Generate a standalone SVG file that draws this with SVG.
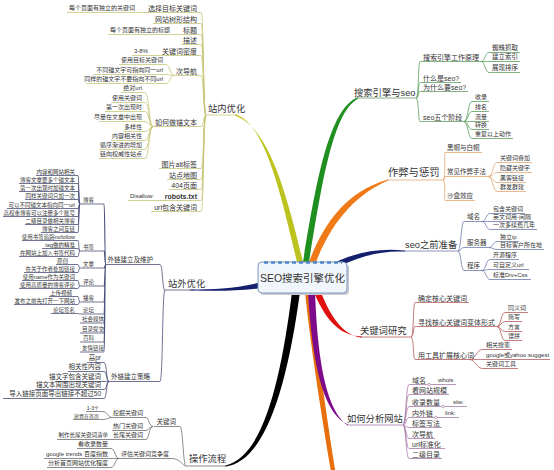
<svg xmlns="http://www.w3.org/2000/svg" width="554" height="470" viewBox="0 0 554 470">
<style>
text{font-family:"Liberation Sans","Noto Sans CJK SC",sans-serif;fill:#333}
.m{font-size:9.3px}
.m2{font-size:10.3px}
.a{font-size:7px}
.b{font-size:6.5px}
.c{font-size:6px}
.d{font-size:5.5px}
.f{font-size:5px}
.e{text-anchor:end}
.u{fill:none;stroke-width:0.8}
.Y{stroke:#c8c67a}
.S{stroke:#4b5179}
.K{stroke:#6e6e6e}
.G{stroke:#5f9f5f}
.O{stroke:#e2a875}
.N{stroke:#6c7aa8}
.R{stroke:#b45c5c}
.P{stroke:#a87ca8}
.j{fill:#fff;stroke-width:0.7}
</style>
<rect width="554" height="470" fill="#fff"/>
<g id="connectors">
<!-- main branches -->
<path d="M297 262C282 200 266 123 235 114.3L235 115.7C270 127 288 200 303 262Z" fill="#bcc21e"/>
<path d="M303 262C315 190 328 108 358 97.3L358 98.7C332 112 321 190 309 262Z" fill="#1f8f1f"/>
<path d="M309 262C322 228 343 192 388 179.4L388 180.6C348 198 328 232 316 262Z" fill="#f07a18"/>
<path d="M338 261C360 251.5 380 248 405 250.4L405 251.6C380 250.5 360 256.5 338 267Z" fill="#14206e"/>
<path d="M262 282C235 288.5 215 289.3 190 289.5L190 290.5C215 290.7 235 291.5 262 288Z" fill="#14206e"/>
<path d="M313 290C324 317 338 336 362 336.4L362 337.6C342 336 329 313 320 290Z" fill="#e01010"/>
<path d="M305 292C310 340 319 400 331 472L335.5 472C324 400 316 340 312 292Z" fill="#e8700c"/>
<path d="M308 292C311 340 318 412 348 424.4L348 425.6C322 408 317 340 315 292Z" fill="#7d0a8a"/>
<path d="M292 292C281 380 263 458 225 465.4L225 466.6C267 462 288 380 300 292Z" fill="#000"/>
<!-- 站内优化 -->
<g class="u Y">
<path d="M206 115C203 115 204 12.5 201 12.5M206 115C203 115 204 23.5 201 23.5M206 115C203 115 204 34.5 201 34.5M206 115C203 115 204 44.5 201 44.5M206 115C203 115 204 55.5 201 55.5M206 115C203 115 204 75.5 201 75.5M206 115C203 115 204 126.5 201 126.5M206 115C203 115 204 168.5 201 168.5M206 115C203 115 204 179.5 201 179.5M206 115C203 115 204 189.5 201 189.5M206 115C203 115 204 200.5 201 200.5M206 115C203 115 204 211.5 201 211.5"/>
<path d="M146 12.5H138M181 34.5H173M160 55.5H151M166 200.5H157"/>
<path d="M174 75.5C170 75.5 170 64.5 166 64.5M174 75.5C170 75.5 170 74.5 166 74.5M174 75.5C170 75.5 170 83.5 166 83.5"/>
<path d="M153 126.5C149 126.5 149 92.5 145 92.5M153 126.5C149 126.5 149 102.5 145 102.5M153 126.5C149 126.5 149 111.5 145 111.5M153 126.5C149 126.5 149 121.5 145 121.5M153 126.5C149 126.5 149 131.5 145 131.5M153 126.5C149 126.5 149 140.5 145 140.5M153 126.5C149 126.5 149 149.5 145 149.5M153 126.5C149 126.5 149 158.5 145 158.5"/>
</g>
<!-- 站外优化 -->
<g class="u S">
<path d="M165 290C162 290 163 264.5 160 264.5M165 290C162 290 163 381.5 160 381.5"/>
<path d="M106 264.5C104.5 264.5 105 204 104 204M106 264.5C104.5 264.5 105 251 104 251M106 264.5C104.5 264.5 105 268 104 268M106 264.5C104.5 264.5 105 286 104 286M106 264.5C104.5 264.5 105 302 104 302M106 264.5C104.5 264.5 105 314 104 314M106 264.5C104.5 264.5 105 323 104 323M106 264.5C104.5 264.5 105 333 104 333M106 264.5C104.5 264.5 105 342 104 342M106 264.5C104.5 264.5 105 352 104 352" stroke-width="1.1"/>
<path d="M80 204C78.5 204 79 175.5 78 175.5M80 204C78.5 204 79 183.5 78 183.5M80 204C78.5 204 79 191.5 78 191.5M80 204C78.5 204 79 199.5 78 199.5M80 204C78.5 204 79 208.5 78 208.5M80 204C78.5 204 79 216.5 78 216.5M80 204C78.5 204 79 224.5 78 224.5M80 204C78.5 204 79 232.5 78 232.5"/>
<path d="M80 251C78.5 251 79 240.5 78 240.5M80 251C78.5 251 79 248.5 78 248.5M80 251C78.5 251 79 256.5 78 256.5"/>
<path d="M80 268C78.5 268 79 264.5 78 264.5M80 268C78.5 268 79 272.5 78 272.5"/>
<path d="M80 286C78.5 286 79 280.5 78 280.5M80 286C78.5 286 79 288.5 78 288.5"/>
<path d="M80 302C78.5 302 79 296.5 78 296.5M80 302C78.5 302 79 304.5 78 304.5"/>
<path d="M80 314C78.5 314 79 313.5 78 313.5"/>
<path d="M109 381.5C106 381.5 107 362.5 104 362.5M109 381.5C106 381.5 107 371.5 104 371.5M109 381.5C106 381.5 107 381.5 104 381.5M109 381.5C106 381.5 107 389.5 104 389.5M109 381.5C106 381.5 107 398.5 104 398.5"/>
</g>
<!-- 操作流程 -->
<g class="u K">
<path d="M186 466C183 466 183 426.5 180 426.5M186 466C183 466 180 458.5 172 458.5"/>
<path d="M153 426.5C149 426.5 149 417.5 146 417.5M153 426.5C149 426.5 149 430.5 146 430.5M153 426.5C149 426.5 149 439.5 146 439.5"/>
<path d="M112 417.5C108 417.5 108 411.5 102 411.5M112 417.5C108 417.5 108 419.5 102 419.5M112 439.5H110"/>
<path d="M119 458.5C115 458.5 115 448.5 111 448.5M119 458.5C115 458.5 115 458.5 111 458.5M119 458.5C115 458.5 115 467.5 111 467.5"/>
</g>
<!-- 搜索引擎与seo -->
<g class="u G">
<path d="M416 98C419 98 418 61.5 420 61.5M416 98C419 98 418 82.5 420 82.5M416 98C419 98 418 91.5 420 91.5M416 98C419 98 418 121.5 420 121.5"/>
<path d="M481 61.5C485 61.5 485 52.5 489 52.5M481 61.5C485 61.5 485 61.5 489 61.5M481 61.5C485 61.5 485 72.5 489 72.5"/>
<path d="M464 121.5C468 121.5 468 101.5 472 101.5M464 121.5C468 121.5 468 111.5 472 111.5M464 121.5C468 121.5 468 121.5 472 121.5M464 121.5C468 121.5 468 129.5 472 129.5M464 121.5C468 121.5 468 138.5 472 138.5"/>
</g>
<!-- 作弊与惩罚 -->
<g class="u O">
<path d="M443 180C446 180 444 152.5 445 152.5M443 180C446 180 444 176.5 445 176.5M443 180C446 180 444 200.5 445 200.5"/>
<path d="M488 176.5C493 176.5 493 162.5 497 162.5M488 176.5C493 176.5 493 172.5 497 172.5M488 176.5C493 176.5 493 182.5 497 182.5M488 176.5C493 176.5 493 191.5 497 191.5"/>
</g>
<!-- seo之前准备 -->
<g class="u N">
<path d="M458 251C461 251 461 221.5 464 221.5M458 251C461 251 461 247.5 464 247.5M458 251C461 251 461 270.5 464 270.5"/>
<path d="M482 221.5C486 221.5 486 213.5 490 213.5M482 221.5C486 221.5 486 221.5 490 221.5M482 221.5C486 221.5 486 229.5 490 229.5"/>
<path d="M489 247.5C493 247.5 493 241.5 497 241.5M489 247.5C493 247.5 493 249.5 497 249.5"/>
<path d="M482 270.5C486 270.5 486 259.5 490 259.5M482 270.5C486 270.5 486 269.5 490 269.5M482 270.5C486 270.5 486 279.5 490 279.5"/>
</g>
<!-- 关键词研究 -->
<g class="u R">
<path d="M411 337C414 337 413 302.5 415 302.5M411 337C414 337 413 326.5 415 326.5M411 337C414 337 413 359.5 415 359.5"/>
<path d="M497 326.5C501 326.5 501 312.5 505 312.5M497 326.5C501 326.5 501 321.5 505 321.5M497 326.5C501 326.5 501 331.5 505 331.5M497 326.5C501 326.5 501 340.5 505 340.5"/>
<path d="M469 359.5C476 359.5 476 349.5 483 349.5M469 359.5C476 359.5 476 359.5 483 359.5M469 359.5C476 359.5 476 368.5 483 368.5"/>
</g>
<!-- 如何分析网站 -->
<g class="u P">
<path d="M403 425C406 425 406 384.5 409 384.5M403 425C406 425 406 394.5 409 394.5M403 425C406 425 406 406.5 409 406.5M403 425C406 425 406 417.5 409 417.5M403 425C406 425 406 427.5 409 427.5M403 425C406 425 406 438.5 409 438.5M403 425C406 425 406 448.5 409 448.5M403 425C406 425 406 458.5 409 458.5"/>
</g>
</g>

<g id="center">
<rect x="260" y="264" width="89" height="31" rx="4" fill="#c8ccd4"/>
<rect x="258" y="262" width="89" height="31" rx="4" fill="#f1f6fc" stroke="#7f98bd" stroke-width="1"/>
<path d="M264 262.5H342" stroke="#4f86c8" stroke-width="2.6" stroke-dasharray="4 3"/>
<text x="302.5" y="282" font-size="10.5" text-anchor="middle">SEO搜索引擎优化</text>
</g>

<!-- 站内优化 -->
<g id="n-zhannei"><text class="m" x="208" y="111.5">站内优化</text><path class="u Y" d="M205 115H237" stroke-width="1"/></g>
<g id="n-zn1" class="a e"><text x="197" y="10.5">选择目标关键词</text><path class="u Y" d="M146 12.5H201"/></g>
<g id="n-zn2" class="a e"><text x="197" y="21.5">网站树形结构</text><path class="u Y" d="M153 23.5H201"/></g>
<g id="n-zn3" class="a e"><text x="197" y="32.5">标题</text><path class="u Y" d="M181 34.5H201"/></g>
<g id="n-zn4" class="a e"><text x="197" y="42.5">描述</text><path class="u Y" d="M181 44.5H201"/></g>
<g id="n-zn5" class="a e"><text x="197" y="53.5">关键词密度</text><path class="u Y" d="M160 55.5H201"/></g>
<g id="n-zn6" class="a e"><text x="197" y="73.5">次导航</text><path class="u Y" d="M174 75.5H201"/></g>
<g id="n-zn7" class="a e"><text x="197" y="124.5">如何做锚文本</text><path class="u Y" d="M153 126.5H201"/></g>
<g id="n-zn8" class="a e"><text x="197" y="166.5">图片alt标签</text><path class="u Y" d="M159 168.5H201"/></g>
<g id="n-zn9" class="a e"><text x="197" y="177.5">站点地图</text><path class="u Y" d="M167 179.5H201"/></g>
<g id="n-zn10" class="a e"><text x="197" y="187.5">404页面</text><path class="u Y" d="M169 189.5H201"/></g>
<g id="n-zn11" class="a e"><text x="197" y="198.5" font-weight="bold">robots.txt</text><path class="u Y" d="M164 200.5H201"/></g>
<g id="n-zn12" class="a e"><text x="197" y="209.5">url包含关键词</text><path class="u Y" d="M151 211.5H201"/></g>
<g id="n-zn1a" class="c e"><text x="135" y="10.3">每个页面有独立的关键词</text><path class="u Y" d="M67 12.5H138"/></g>
<g id="n-zn3a" class="c e"><text x="170" y="32.3">每个页面有独立的标题</text><path class="u Y" d="M108 34.5H173"/></g>
<g id="n-zn5a" class="c e"><text x="148" y="53.3">3-8%</text><path class="u Y" d="M132 55.5H151"/></g>
<g id="n-zn6a" class="c e"><text x="163" y="62.3">使用目标关键词</text><path class="u Y" d="M119 64.5H166"/></g>
<g id="n-zn6b" class="c e"><text x="163" y="72.3">不同锚文字可指向同一url</text><path class="u Y" d="M93 74.5H166"/></g>
<g id="n-zn6c" class="c e"><text x="163" y="81.3">同样的锚文字不要指向不同url</text><path class="u Y" d="M86 83.5H166"/></g>
<g id="n-zn7a" class="c e"><text x="142" y="90.3">绝对url</text><path class="u Y" d="M121 92.5H145"/></g>
<g id="n-zn7b" class="c e"><text x="142" y="100.3">使用关键词</text><path class="u Y" d="M111 102.5H145"/></g>
<g id="n-zn7c" class="c e"><text x="142" y="109.3">第一次出现时</text><path class="u Y" d="M105 111.5H145"/></g>
<g id="n-zn7d" class="c e"><text x="142" y="119.3">尽量在文章中出现</text><path class="u Y" d="M99 121.5H145"/></g>
<g id="n-zn7e" class="c e"><text x="142" y="129.3">多样性</text><path class="u Y" d="M123 131.5H145"/></g>
<g id="n-zn7f" class="c e"><text x="142" y="138.3">内容相关性</text><path class="u Y" d="M111 140.5H145"/></g>
<g id="n-zn7g" class="c e"><text x="142" y="147.3">循序渐进的增加</text><path class="u Y" d="M99 149.5H145"/></g>
<g id="n-zn7h" class="c e"><text x="142" y="156.3">链向权威性站点</text><path class="u Y" d="M99 158.5H145"/></g>
<g id="n-zn11a" class="c e"><text x="154" y="198.3">Disallow:</text><path class="u Y" d="M128 200.5H157"/></g>

<!-- 站外优化 -->
<g id="n-zhanwai"><text class="m" x="168" y="286.5">站外优化</text><path class="u S" d="M165 290H195" stroke-width="1"/></g>
<g id="n-zw1" class="b e"><text x="153" y="262.3">外链建立及维护</text><path class="u S" d="M106 264.5H160"/></g>
<g id="n-zw2" class="b e"><text x="150" y="379.3">外链建立策略</text><path class="u S" d="M109 381.5H160"/></g>
<g id="n-zw1a" class="d"><text x="83" y="202">博客</text><path class="u S" d="M80 204H104"/></g>
<g id="n-zw1b" class="d"><text x="83" y="249">书签</text><path class="u S" d="M80 251H104"/></g>
<g id="n-zw1c" class="d"><text x="83" y="266">文章</text><path class="u S" d="M80 268H104"/></g>
<g id="n-zw1d" class="d"><text x="83" y="284">评论</text><path class="u S" d="M80 286H104"/></g>
<g id="n-zw1e" class="d"><text x="83" y="300">播客</text><path class="u S" d="M80 302H104"/></g>
<g id="n-zw1f" class="d"><text x="83" y="312">论坛</text><path class="u S" d="M80 314H104"/></g>
<g id="n-zw1g" class="d"><text x="82" y="321">社会媒体</text><path class="u S" d="M80 323H104"/></g>
<g id="n-zw1h" class="d"><text x="82" y="331">目录提交</text><path class="u S" d="M80 333H104"/></g>
<g id="n-zw1i" class="d"><text x="83" y="340">百科</text><path class="u S" d="M80 342H104"/></g>
<g id="n-zw1j" class="d"><text x="82" y="350">友情链接</text><path class="u S" d="M80 352H104"/></g>
<g id="n-bk1" class="d e"><text x="75" y="174">内容和网站相关</text><path class="u S" d="M36 175.5H78"/></g>
<g id="n-bk2" class="d e"><text x="75" y="182">博客文章要多个锚文本</text><path class="u S" d="M19 183.5H78"/></g>
<g id="n-bk3" class="d e"><text x="75" y="190">第一次出现时加锚文本</text><path class="u S" d="M19 191.5H78"/></g>
<g id="n-bk4" class="d e"><text x="75" y="198">同样关键词只加一次</text><path class="u S" d="M25 199.5H78"/></g>
<g id="n-bk5" class="d e"><text x="75" y="207">可以不同锚文本指向同一url</text><path class="u S" d="M7 208.5H78"/></g>
<g id="n-bk6" class="d e"><text x="75" y="215">高权重博客可以注册多个账号</text><path class="u S" d="M3 216.5H78"/></g>
<g id="n-bk7" class="d e"><text x="75" y="223">二级目录做相关博客</text><path class="u S" d="M25 224.5H78"/></g>
<g id="n-bk8" class="d e"><text x="75" y="231">博客之间互链</text><path class="u S" d="M41 232.5H78"/></g>
<g id="n-sq1" class="d e"><text x="75" y="239">使用书签追踪nofollow</text><path class="u S" d="M22 240.5H78"/></g>
<g id="n-sq2" class="d e"><text x="75" y="247">tag做的精准</text><path class="u S" d="M42 248.5H78"/></g>
<g id="n-sq3" class="d e"><text x="75" y="255">在网站上加入书签代码</text><path class="u S" d="M19 256.5H78"/></g>
<g id="n-wz1" class="d e"><text x="68" y="263">原创</text><path class="u S" d="M56 264.5H78"/></g>
<g id="n-wz2" class="d e"><text x="75" y="271">在关于作者处加链接</text><path class="u S" d="M24 272.5H78"/></g>
<g id="n-pl1" class="d e"><text x="75" y="279">使用name作为关键词</text><path class="u S" d="M22 280.5H78"/></g>
<g id="n-pl2" class="d e"><text x="75" y="287">使用高质量的博客评论</text><path class="u S" d="M19 288.5H78"/></g>
<g id="n-bo1" class="d e"><text x="72" y="295">上传视频</text><path class="u S" d="M49 296.5H78"/></g>
<g id="n-bo2" class="d e"><text x="75" y="303">发布之前先打开一下网站</text><path class="u S" d="M14 304.5H78"/></g>
<g id="n-lt1" class="d e"><text x="75" y="312">论坛签名</text><path class="u S" d="M51 313.5H78"/></g>
<g id="n-cl1" class="b e"><text x="101" y="360.3">高pr</text><path class="u S" d="M87 362.5H104"/></g>
<g id="n-cl2" class="b e"><text x="101" y="369.3">相关性内容</text><path class="u S" d="M68 371.5H104"/></g>
<g id="n-cl3" class="b e"><text x="101" y="379.3">锚文字包含关键词</text><path class="u S" d="M55 381.5H104"/></g>
<g id="n-cl4" class="b e"><text x="101" y="387.3">锚文本周围出现关键词</text><path class="u S" d="M35 389.5H104"/></g>
<g id="n-cl5" class="b e"><text x="101" y="396.3">导入链接页面导出链接不超过50</text><path class="u S" d="M3 398.5H104"/></g>

<!-- 操作流程 -->
<g id="n-caozuo"><text class="m" x="189" y="461.5">操作流程</text><path class="u K" d="M186 466H228" stroke-width="1"/></g>
<g id="n-cz1" class="b e"><text x="176" y="424.3">关键词</text><path class="u K" d="M154 426.5H180"/></g>
<g id="n-cz2" class="c e"><text x="169" y="456.2">评估关键词竞争度</text><path class="u K" d="M119 458.5H172"/></g>
<g id="n-cz1a" class="c e"><text x="143" y="415.2">挖掘关键词</text><path class="u K" d="M112 417.5H146"/></g>
<g id="n-cz1b" class="c e"><text x="143" y="428.2">热门关键词</text><path class="u K" d="M112 430.5H146"/></g>
<g id="n-cz1c" class="c e"><text x="143" y="437.2">长尾关键词</text><path class="u K" d="M112 439.5H146"/></g>
<g id="n-cz1a1" class="f e"><text x="99" y="409.8">1-3个</text><path class="u K" d="M86 411.5H102"/></g>
<g id="n-cz1a2" class="f e"><text x="99" y="417.8">放置在首页</text><path class="u K" d="M73 419.5H102"/></g>
<g id="n-cz1c1" class="d e"><text x="108" y="437.2">制作长尾关键词清单</text><path class="u K" d="M57 439.5H110"/></g>
<g id="n-cz2a" class="c e"><text x="108" y="446.2">看收录数量</text><path class="u K" d="M77 448.5H111"/></g>
<g id="n-cz2b" class="c e"><text x="108" y="456.2">google trends 百度指数</text><path class="u K" d="M44 458.5H111"/></g>
<g id="n-cz2c" class="c e"><text x="108" y="465.2">分析首页网站优化程度</text><path class="u K" d="M47 467.5H111"/></g>

<!-- 搜索引擎与seo -->
<g id="n-sousuo"><text class="m" x="354" y="95.5">搜索引擎与seo</text><path class="u G" d="M355 98H416" stroke-width="1"/></g>
<g id="n-ss1" class="a"><text x="423" y="59.5">搜索引擎工作原理</text><path class="u G" d="M420 61.5H481"/></g>
<g id="n-ss2" class="a"><text x="423" y="80.5">什么是seo?</text><path class="u G" d="M420 82.5H461"/></g>
<g id="n-ss3" class="a"><text x="423" y="89.5">为什么要seo?</text><path class="u G" d="M420 91.5H468"/></g>
<g id="n-ss4" class="a"><text x="423" y="119.5">seo五个阶段</text><path class="u G" d="M420 121.5H464"/></g>
<g id="n-ss1a" class="b"><text x="492" y="50.3">蜘蛛抓取</text><path class="u G" d="M489 52.5H520"/></g>
<g id="n-ss1b" class="b"><text x="492" y="59.3">建立索引</text><path class="u G" d="M489 61.5H520"/></g>
<g id="n-ss1c" class="b"><text x="492" y="70.3">展现排序</text><path class="u G" d="M489 72.5H520"/></g>
<g id="n-ss4a" class="c"><text x="475" y="99.2">收录</text><path class="u G" d="M472 101.5H489"/></g>
<g id="n-ss4b" class="c"><text x="475" y="109.2">排名</text><path class="u G" d="M472 111.5H489"/></g>
<g id="n-ss4c" class="c"><text x="475" y="119.2">流量</text><path class="u G" d="M472 121.5H489"/></g>
<g id="n-ss4d" class="c"><text x="475" y="127.2">转换</text><path class="u G" d="M472 129.5H489"/></g>
<g id="n-ss4e" class="c"><text x="475" y="136.2">重复以上动作</text><path class="u G" d="M472 138.5H513"/></g>

<!-- 作弊与惩罚 -->
<g id="n-zuobi"><text class="m2" x="388" y="175.5">作弊与惩罚</text><path class="u O" d="M386 180H443" stroke-width="1"/></g>
<g id="n-zb1" class="b"><text x="447" y="150.3">黑帽与白帽</text><path class="u O" d="M445 152.5H482"/></g>
<g id="n-zb2" class="b"><text x="447" y="174.3">常见作弊手法</text><path class="u O" d="M445 176.5H488"/></g>
<g id="n-zb3" class="b"><text x="447" y="198.3">沙盒效应</text><path class="u O" d="M445 200.5H475"/></g>
<g id="n-zb2a" class="c"><text x="500" y="160.2">关键词叠加</text><path class="u O" d="M497 162.5H532"/></g>
<g id="n-zb2b" class="c"><text x="500" y="170.2">隐藏关键字</text><path class="u O" d="M497 172.5H532"/></g>
<g id="n-zb2c" class="c"><text x="500" y="180.2">黑客链接</text><path class="u O" d="M497 182.5H526"/></g>
<g id="n-zb2d" class="c"><text x="500" y="189.2">群发群建</text><path class="u O" d="M497 191.5H526"/></g>

<!-- seo之前准备 -->
<g id="n-zhunbei"><text class="m" x="405" y="247.5">seo之前准备</text><path class="u N" d="M403 251H458" stroke-width="1"/></g>
<g id="n-zbb1" class="b"><text x="467" y="219.3">域名</text><path class="u N" d="M464 221.5H482"/></g>
<g id="n-zbb2" class="b"><text x="467" y="245.3">服务器</text><path class="u N" d="M464 247.5H489"/></g>
<g id="n-zbb3" class="b"><text x="467" y="268.3">程序</text><path class="u N" d="M464 270.5H482"/></g>
<g id="n-zbb1a" class="c"><text x="493" y="211.2">包含关键词</text><path class="u N" d="M490 213.5H525"/></g>
<g id="n-zbb1b" class="c"><text x="493" y="219.2">英文词用-间隔</text><path class="u N" d="M490 221.5H533"/></g>
<g id="n-zbb1c" class="c"><text x="493" y="227.2">一次多续费几年</text><path class="u N" d="M490 229.5H537"/></g>
<g id="n-zbb2a" class="c"><text x="500" y="239.2">独立ip</text><path class="u N" d="M497 241.5H519"/></g>
<g id="n-zbb2b" class="c"><text x="500" y="247.2">目标客户所在地</text><path class="u N" d="M497 249.5H544"/></g>
<g id="n-zbb3a" class="c"><text x="493" y="257.2">开源程序</text><path class="u N" d="M490 259.5H519"/></g>
<g id="n-zbb3b" class="c"><text x="493" y="267.2">可自定义url</text><path class="u N" d="M490 269.5H529"/></g>
<g id="n-zbb3c" class="c"><text x="493" y="277.2">标准Div+Css</text><path class="u N" d="M490 279.5H531"/></g>

<!-- 关键词研究 -->
<g id="n-yanjiu"><text class="m" x="360" y="333.5">关键词研究</text><path class="u R" d="M360 337H411" stroke-width="1"/></g>
<g id="n-yj1" class="a"><text x="418" y="300.5">确定核心关键词</text><path class="u R" d="M415 302.5H469"/></g>
<g id="n-yj2" class="a"><text x="418" y="324.5">寻找核心关键词变体形式</text><path class="u R" d="M415 326.5H497"/></g>
<g id="n-yj3" class="a"><text x="418" y="357.5">用工具扩展核心词</text><path class="u R" d="M415 359.5H469"/></g>
<g id="n-yj2a" class="c"><text x="508" y="310.2">同义词</text><path class="u R" d="M505 312.5H528"/></g>
<g id="n-yj2b" class="c"><text x="508" y="319.2">简写</text><path class="u R" d="M505 321.5H522"/></g>
<g id="n-yj2c" class="c"><text x="508" y="329.2">方言</text><path class="u R" d="M505 331.5H522"/></g>
<g id="n-yj2d" class="c"><text x="508" y="338.2">误拼</text><path class="u R" d="M505 340.5H522"/></g>
<g id="n-yj3a" class="c"><text x="486" y="347.2">相关搜索</text><path class="u R" d="M483 349.5H512"/></g>
<g id="n-yj3b" class="c"><text x="486" y="357.2">google或yahoo suggest</text><path class="u R" d="M483 359.5H550"/></g>
<g id="n-yj3c" class="c"><text x="486" y="366.2">关键词工具</text><path class="u R" d="M483 368.5H518"/></g>

<!-- 如何分析网站 -->
<g id="n-fenxi"><text class="m" x="347" y="421.5">如何分析网站</text><path class="u P" d="M347 425H403" stroke-width="1"/></g>
<g id="n-fx1" class="a"><text x="412" y="382.5">域名</text><path class="u P" d="M409 384.5H428"/></g>
<g id="n-fx2" class="a"><text x="412" y="392.5">看网站规模</text><path class="u P" d="M409 394.5H449"/></g>
<g id="n-fx3" class="a"><text x="412" y="404.5">收录数量</text><path class="u P" d="M409 406.5H442"/></g>
<g id="n-fx4" class="a"><text x="412" y="415.5">内外链</text><path class="u P" d="M409 417.5H435"/></g>
<g id="n-fx5" class="a"><text x="412" y="425.5">标签写法</text><path class="u P" d="M409 427.5H442"/></g>
<g id="n-fx6" class="a"><text x="412" y="436.5">次导航</text><path class="u P" d="M409 438.5H435"/></g>
<g id="n-fx7" class="a"><text x="412" y="446.5">url标准化</text><path class="u P" d="M409 448.5H445"/></g>
<g id="n-fx8" class="a"><text x="412" y="456.5">二级目录</text><path class="u P" d="M409 458.5H442"/></g>
<g id="n-fx1a" class="c"><text x="438" y="382.2">whois</text><path class="u P" d="M428 384.5H456"/><circle class="j P" cx="429" cy="384.5" r="1.3"/></g>
<g id="n-fx3a" class="c"><text x="453" y="404.2">site:</text><path class="u P" d="M442 406.5H467"/><circle class="j P" cx="443" cy="406.5" r="1.3"/></g>
<g id="n-fx4a" class="c"><text x="445" y="415.2">link:</text><path class="u P" d="M435 417.5H459"/><circle class="j P" cx="436" cy="417.5" r="1.3"/></g>
</svg>
